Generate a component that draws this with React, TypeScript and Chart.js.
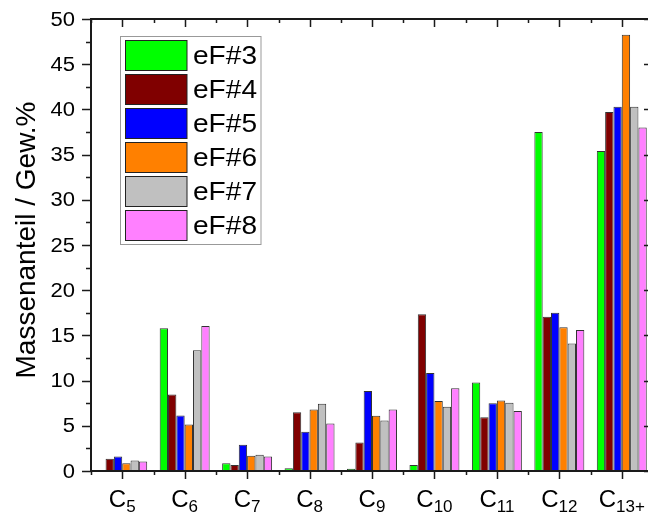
import React, { useEffect, useRef } from "react";
import { Chart, registerables } from "chart.js";

Chart.register(...registerables);

const categoryMain = ["C", "C", "C", "C", "C", "C", "C", "C", "C"];
const categorySub = ["5", "6", "7", "8", "9", "10", "11", "12", "13+"];
const categories = categoryMain.map((c, i) => c + categorySub[i]);

const seriesNames = ["eF#3", "eF#4", "eF#5", "eF#6", "eF#7", "eF#8"];
const seriesColors = ["#00FF00", "#800000", "#0000FF", "#FF8000", "#C0C0C0", "#FF80FF"];

const eF3 = [null, 15.8, 0.85, 0.3, 0.25, 0.67, 9.8, 37.5, 35.4];
const eF4 = [1.35, 8.45, 0.65, 6.5, 3.15, 17.35, 5.95, 17.05, 39.7];
const eF5 = [1.6, 6.15, 2.9, 4.35, 8.85, 10.85, 7.5, 17.5, 40.3];
const eF6 = [0.85, 5.15, 1.7, 6.8, 6.1, 7.75, 7.8, 15.9, 48.25];
const eF7 = [1.15, 13.35, 1.8, 7.45, 5.6, 7.1, 7.55, 14.1, 40.3];
const eF8 = [1.05, 16.05, 1.6, 5.25, 6.8, 9.15, 6.65, 15.6, 38.0];
const seriesValues = [eF3, eF4, eF5, eF6, eF7, eF8];

const yMin = 0;
const yMax = 50;
const yStep = 5;
const yTickLabels = ["0", "5", "10", "15", "20", "25", "30", "35", "40", "45", "50"];
const yTitle = "Massenanteil / Gew.%";

const FONT = "'Liberation Sans', Arial, sans-serif";

const framePlugin = {
  id: "frameAndDecor",
  afterDatasetsDraw(chart: any) {
    const { ctx, chartArea } = chart;
    const { left, right, top, bottom } = chartArea;
    const xs = chart.scales.x;
    const ys = chart.scales.y;
    ctx.save();
    ctx.strokeStyle = "#1a1a1a";
    ctx.lineCap = "butt";

    // ticks on y
    for (let v = yMin; v <= yMax + 1e-9; v += yStep / 2) {
      const y = Math.round(ys.getPixelForValue(v)) + 0.5;
      const major = Math.abs(v / yStep - Math.round(v / yStep)) < 1e-6;
      ctx.lineWidth = 1.5;
      ctx.beginPath();
      ctx.moveTo(left, y);
      ctx.lineTo(left - (major ? 9 : 5), y);
      ctx.moveTo(right, y);
      ctx.lineTo(right - (major ? 9 : 5), y);
      ctx.stroke();
    }
    // y tick labels
    ctx.fillStyle = "#000";
    ctx.textBaseline = "middle";
    ctx.textAlign = "right";
    ctx.font = `20px ${FONT}`;
    yTickLabels.forEach((lab) => {
      const y = ys.getPixelForValue(Number(lab));
      ctx.save();
      ctx.translate(left - 16, y + 1);
      ctx.scale(1.1, 1);
      ctx.fillText(lab, 0, 0);
      ctx.restore();
    });

    // ticks on x
    const n = categories.length;
    const cw = (right - left) / n;
    for (let i = 0; i < n; i++) {
      const xc = Math.round(xs.getPixelForTick(i)) + 0.5;
      const xb = Math.round(xc - cw / 2) + 0.5;
      ctx.lineWidth = 1.5;
      ctx.beginPath();
      ctx.moveTo(xc, bottom);
      ctx.lineTo(xc, bottom + 8);
      ctx.moveTo(xc, top);
      ctx.lineTo(xc, top + 8);
      ctx.moveTo(xb, bottom);
      ctx.lineTo(xb, bottom + 4);
      ctx.moveTo(xb, top);
      ctx.lineTo(xb, top + 4);
      ctx.stroke();
    }
    // frame
    ctx.lineWidth = 2;
    ctx.strokeRect(left, top, right - left, bottom - top);

    // x labels with subscripts
    ctx.fillStyle = "#000";
    ctx.textBaseline = "alphabetic";
    ctx.textAlign = "left";
    for (let i = 0; i < n; i++) {
      const xc = xs.getPixelForTick(i);
      ctx.font = `24px ${FONT}`;
      const wm = ctx.measureText(categoryMain[i]).width;
      ctx.font = `17px ${FONT}`;
      const wsub = ctx.measureText(categorySub[i]).width;
      const x0 = xc - (wm + wsub) / 2;
      ctx.font = `24px ${FONT}`;
      ctx.fillText(categoryMain[i], x0, 506.5);
      ctx.font = `17px ${FONT}`;
      ctx.fillText(categorySub[i], x0 + wm, 511.5);
    }

    // y title
    ctx.save();
    ctx.translate(35, (top + bottom) / 2 - 5);
    ctx.rotate(-Math.PI / 2);
    ctx.font = `28px ${FONT}`;
    ctx.textAlign = "center";
    ctx.fillText(yTitle, 0, 0);
    ctx.restore();

    // legend
    ctx.fillStyle = "#fff";
    ctx.fillRect(120.5, 36.5, 140.5, 208);
    ctx.strokeStyle = "#999";
    ctx.lineWidth = 1;
    ctx.strokeRect(120.5, 36.5, 140.5, 208);
    for (let i = 0; i < seriesNames.length; i++) {
      const sy = 40.5 + i * 34;
      ctx.fillStyle = seriesColors[i];
      ctx.fillRect(125.5, sy, 61.5, 30);
      ctx.strokeStyle = "#222";
      ctx.strokeRect(125.5, sy, 61.5, 30);
      ctx.save();
      ctx.translate(193, 63.5 + i * 34);
      ctx.scale(1.08, 1);
      ctx.fillStyle = "#000";
      ctx.font = `26px ${FONT}`;
      ctx.textAlign = "left";
      ctx.fillText(seriesNames[i], 0, 0);
      ctx.restore();
    }
    ctx.restore();
  },
};

export default function App() {
  const ref = useRef<HTMLCanvasElement | null>(null);
  useEffect(() => {
    if (!ref.current) return;
    const chart = new Chart(ref.current, {
      type: "bar",
      data: {
        labels: categories,
        datasets: seriesNames.map((name, i) => ({
          label: name,
          data: seriesValues[i],
          backgroundColor: seriesColors[i],
          borderColor: "#333",
          borderWidth: 1,
          categoryPercentage: 0.8,
          barPercentage: 1.0,
        })),
      },
      options: {
        responsive: false,
        animation: false,
        devicePixelRatio: 1,
        layout: { padding: { top: 19, left: 0, right: 7, bottom: 0 } },
        plugins: { legend: { display: false }, tooltip: { enabled: false }, title: { display: false } },
        scales: {
          x: {
            type: "category",
            offset: true,
            grid: { display: false },
            border: { display: false },
            ticks: { display: false },
            afterFit: (s: any) => {
              s.height = 42;
            },
          },
          y: {
            min: yMin,
            max: yMax,
            grid: { display: false },
            border: { display: false },
            ticks: { display: false, stepSize: yStep },
            afterFit: (s: any) => {
              s.width = 91;
            },
          },
        },
      },
      plugins: [framePlugin],
    });
    return () => chart.destroy();
  }, []);
  return (
    <div style={{ position: "fixed", left: 0, top: 0, width: 648, height: 513, overflow: "hidden", background: "#fff" }}>
      <canvas ref={ref} width={660} height={513} style={{ display: "block" }} />
    </div>
  );
}
